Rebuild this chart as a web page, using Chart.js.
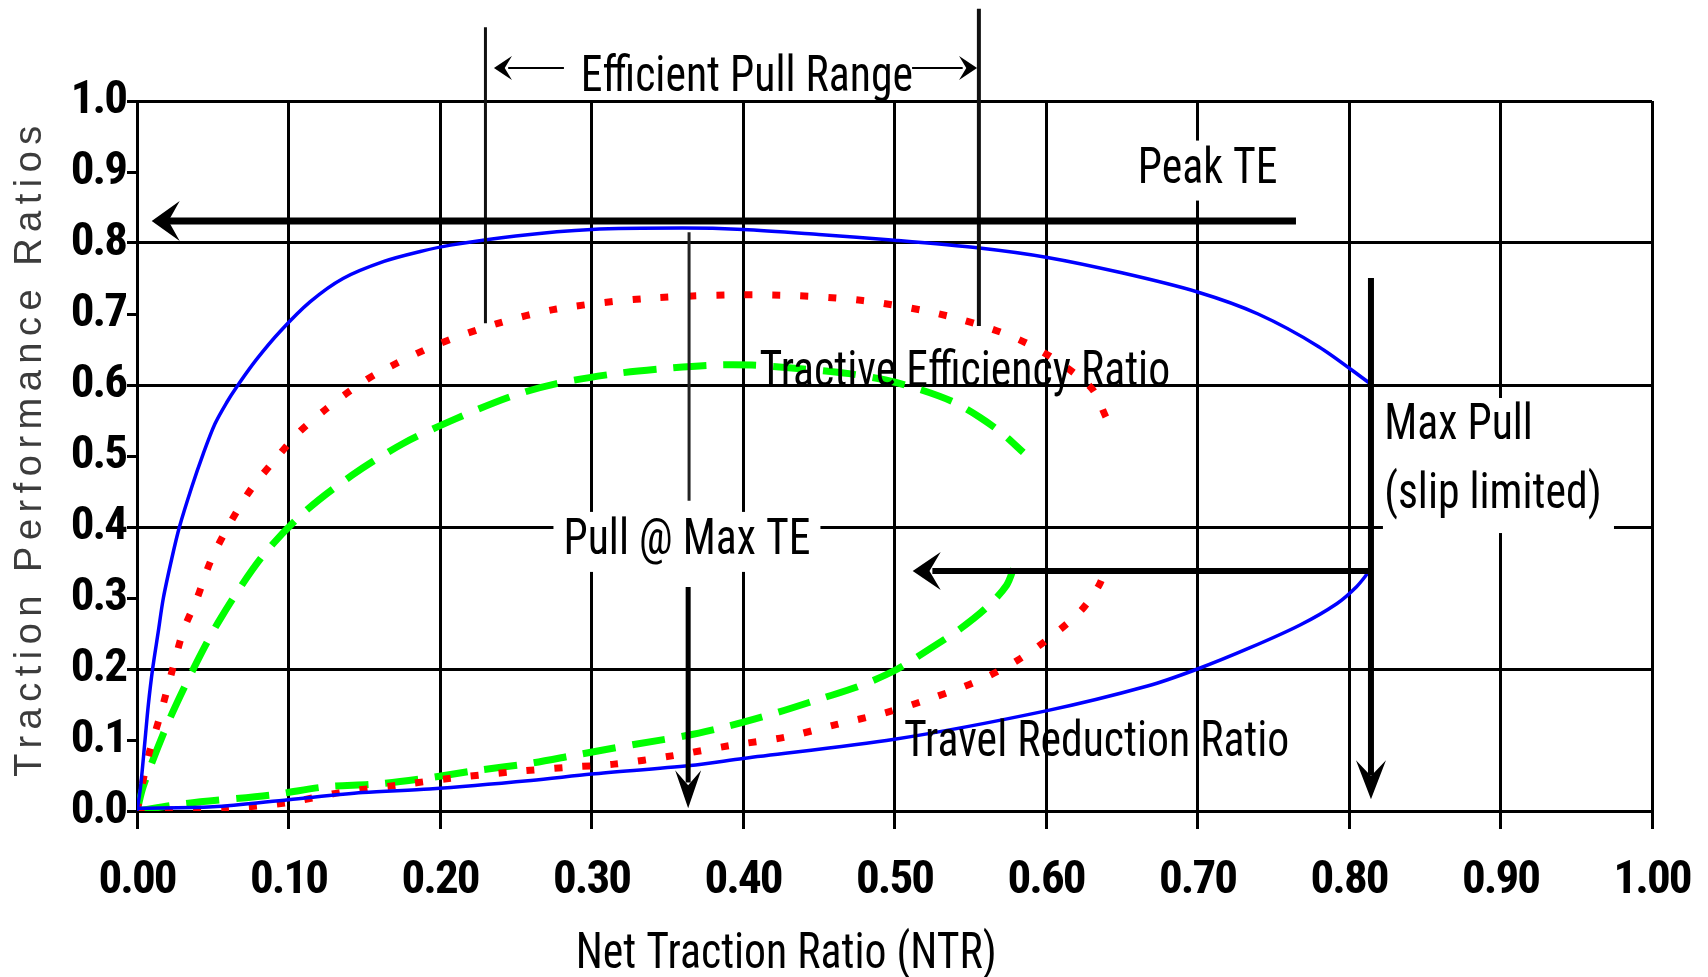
<!DOCTYPE html>
<html>
<head>
<meta charset="utf-8">
<script src="https://cdn.jsdelivr.net/npm/chart.js@4.4.1/dist/chart.umd.min.js"></script>
<style>
  html, body { margin: 0; padding: 0; background: #fff; }
  #wrap { width: 1708px; height: 977px; }
</style>
</head>
<body>
<div id="wrap"><canvas id="tractionChart" width="1708" height="977"></canvas></div>
<script>
// --- data ---
const xTickLabels = ['0.00', '0.10', '0.20', '0.30', '0.40', '0.50', '0.60', '0.70', '0.80', '0.90', '1.00'];
const yTickLabels = ['0.0', '0.1', '0.2', '0.3', '0.4', '0.5', '0.6', '0.7', '0.8', '0.9', '1.0'];

// tractive efficiency (upper curves)
const blueTeNtr = [0, 0.0024, 0.0053, 0.0075, 0.0103, 0.014, 0.0174, 0.023, 0.028, 0.0361, 0.0437, 0.0514, 0.0591, 0.066, 0.0789, 0.0943, 0.1142, 0.136, 0.163, 0.187, 0.207, 0.25, 0.30, 0.36, 0.40, 0.45, 0.50, 0.556, 0.60, 0.65, 0.70, 0.74, 0.78, 0.814];
const blueTe    = [0, 0.035, 0.10, 0.15, 0.20, 0.252, 0.30, 0.356, 0.40, 0.456, 0.503, 0.545, 0.575, 0.598, 0.636, 0.675, 0.717, 0.75, 0.774, 0.788, 0.797, 0.81, 0.819, 0.821, 0.819, 0.812, 0.804, 0.793, 0.78, 0.758, 0.731, 0.70, 0.654, 0.602];

const redTeNtr = [0, 0.0075, 0.0152, 0.0229, 0.0306, 0.0394, 0.0488, 0.0613, 0.0755, 0.0908, 0.1072, 0.1247, 0.1422, 0.159, 0.197, 0.237, 0.277, 0.337, 0.412, 0.479, 0.541, 0.589, 0.629, 0.64];
const redTe    = [0, 0.077, 0.134, 0.195, 0.254, 0.298, 0.353, 0.405, 0.454, 0.494, 0.534, 0.566, 0.594, 0.617, 0.656, 0.686, 0.707, 0.722, 0.727, 0.719, 0.694, 0.657, 0.598, 0.553];

const greenTeNtr = [0, 0.0042, 0.0196, 0.0372, 0.0548, 0.0825, 0.11, 0.142, 0.176, 0.211, 0.247, 0.277, 0.316, 0.347, 0.38, 0.406, 0.438, 0.47, 0.494, 0.515, 0.538, 0.556, 0.571, 0.585];
const greenTe    = [0, 0.035, 0.12, 0.20, 0.27, 0.358, 0.42, 0.473, 0.518, 0.553, 0.584, 0.602, 0.616, 0.623, 0.628, 0.628, 0.623, 0.616, 0.607, 0.595, 0.577, 0.555, 0.532, 0.505];

// travel reduction (lower curves)
const blueTrNtr = [0, 0.05, 0.10, 0.149, 0.193, 0.26, 0.30, 0.365, 0.40, 0.50, 0.60, 0.667, 0.70, 0.7347, 0.7677, 0.7919, 0.805, 0.8128];
const blueTr    = [0.004, 0.006, 0.016, 0.026, 0.031, 0.043, 0.052, 0.064, 0.074, 0.101, 0.141, 0.176, 0.20, 0.23, 0.262, 0.292, 0.316, 0.336];

const redTrNtr = [0, 0.06, 0.10, 0.134, 0.171, 0.207, 0.247, 0.287, 0.315, 0.354, 0.391, 0.428, 0.462, 0.495, 0.526, 0.556, 0.581, 0.603, 0.623, 0.635, 0.64];
const redTr    = [0, 0.004, 0.012, 0.026, 0.036, 0.046, 0.055, 0.062, 0.066, 0.078, 0.092, 0.104, 0.122, 0.139, 0.16, 0.184, 0.212, 0.245, 0.282, 0.318, 0.346];

const greenTrNtr = [0, 0.03, 0.09, 0.124, 0.158, 0.19, 0.224, 0.259, 0.29, 0.329, 0.362, 0.391, 0.423, 0.451, 0.477, 0.502, 0.523, 0.543, 0.561, 0.574, 0.579];
const greenTr    = [0, 0.01, 0.023, 0.034, 0.038, 0.046, 0.057, 0.067, 0.079, 0.094, 0.106, 0.12, 0.139, 0.158, 0.176, 0.2, 0.228, 0.256, 0.287, 0.318, 0.344];

const NARROW = '"Roboto Condensed", "DejaVu Sans Condensed", "Liberation Sans", sans-serif';
const TEXT_FONT = '50px ' + NARROW;
const SQUEEZE = 0.875; // the figure's lettering is horizontally squashed

function toPoints(xs, ys) {
    return xs.map((x, i) => ({ x: x, y: ys[i] }));
}

function lineSet(label, xs, ys, color, width, dash) {
    return {
        label: label,
        data: toPoints(xs, ys),
        borderColor: color,
        borderWidth: width,
        borderDash: dash,
        borderCapStyle: 'butt',
        showLine: true,
        pointRadius: 0,
        fill: false,
        tension: 0.3
    };
}

// annotation helpers (positions in data units, converted through the scales)
function drawLine(ctx, x1, y1, x2, y2, w, color) {
    ctx.beginPath();
    ctx.moveTo(x1, y1);
    ctx.lineTo(x2, y2);
    ctx.lineWidth = w;
    ctx.strokeStyle = color || '#000';
    ctx.lineCap = 'butt';
    ctx.stroke();
}

function drawHead(ctx, tx, ty, dx, dy, len, half) {
    const nx = -dy, ny = dx;
    ctx.beginPath();
    ctx.moveTo(tx, ty);
    ctx.lineTo(tx - dx * len + nx * half, ty - dy * len + ny * half);
    ctx.lineTo(tx - dx * len * 0.6, ty - dy * len * 0.6);
    ctx.lineTo(tx - dx * len - nx * half, ty - dy * len - ny * half);
    ctx.closePath();
    ctx.fillStyle = '#000';
    ctx.fill();
}

// squashed text, returns drawn width
function drawText(ctx, text, x, y, align, box) {
    ctx.save();
    ctx.font = TEXT_FONT;
    const w = ctx.measureText(text).width * SQUEEZE;
    const left = align === 'left' ? x : x - w / 2;
    if (box) {
        ctx.fillStyle = '#fff';
        ctx.fillRect(left - 10, y - 30, w + 20, 60);
    }
    ctx.translate(left, y);
    ctx.scale(SQUEEZE, 1);
    ctx.fillStyle = '#000';
    ctx.textAlign = 'left';
    ctx.textBaseline = 'middle';
    ctx.fillText(text, 0, 0);
    ctx.restore();
    return w;
}

const annotationPlugin = {
    id: 'annotations',
    beforeDraw(chart) {
        // tighter letters for the axis tick labels
        chart.ctx.letterSpacing = '-2px';
    },
    afterDraw(chart) {
        const ctx = chart.ctx;
        const sx = chart.scales.x, sy = chart.scales.y;
        const px = v => sx.getPixelForValue(v);
        const py = v => sy.getPixelForValue(v);
        ctx.save();
        ctx.letterSpacing = '0px';

        // axis titles
        ctx.save();
        ctx.translate(31, (chart.chartArea.top + chart.chartArea.bottom) / 2 - 8);
        ctx.rotate(-Math.PI / 2);
        ctx.font = '38px "Liberation Sans", Arial, sans-serif';
        ctx.letterSpacing = '6.5px';
        ctx.fillStyle = '#3c3c3c';
        ctx.textAlign = 'center';
        ctx.textBaseline = 'middle';
        ctx.fillText('Traction Performance Ratios', 0, 0);
        ctx.restore();
        drawText(ctx, 'Net Traction Ratio (NTR)', px(0.4285), 955, 'center');

        // efficient pull range
        drawLine(ctx, px(0.230), py(1.104), px(0.230), py(0.687), 3, '#111');
        drawLine(ctx, px(0.5557), py(1.13), px(0.5557), py(0.683), 4, '#111');
        drawLine(ctx, px(0.2818), py(1.0465), px(0.245), py(1.0465), 2);
        drawHead(ctx, px(0.2356), py(1.0465), -1, 0, 18, 12);
        drawLine(ctx, px(0.5116), py(1.0465), px(0.545), py(1.0465), 2);
        drawHead(ctx, px(0.5545), py(1.0465), 1, 0, 18, 12);

        // peak TE arrow
        drawLine(ctx, px(0.765), py(0.831), px(0.02), py(0.831), 7);
        drawHead(ctx, px(0.0097), py(0.831), -1, 0, 28, 20);

        // pull @ max TE
        drawLine(ctx, px(0.3644), py(0.815), px(0.3644), py(0.437), 3, '#222');
        drawLine(ctx, px(0.3638), py(0.3155), px(0.3638), py(0.04), 5);
        drawHead(ctx, px(0.3638), py(0.004), 0, 1, 38, 13);

        // max pull
        drawLine(ctx, px(0.8145), py(0.7507), px(0.8145), py(0.05), 6);
        drawHead(ctx, px(0.8145), py(0.0164), 0, 1, 39, 15);
        drawLine(ctx, px(0.8145), py(0.338), px(0.525), py(0.338), 6);
        drawHead(ctx, px(0.512), py(0.338), -1, 0, 28, 19);

        // labels with white boxes that break the grid
        drawText(ctx, 'Peak TE', px(0.7067), py(0.902), 'center', true);
        drawText(ctx, 'Pull @ Max TE', px(0.363), py(0.379), 'center', true);
        ctx.fillStyle = '#fff';
        ctx.fillRect(px(0.8224), py(0.5817), px(0.9749) - px(0.8224), py(0.3915) - py(0.5817));
        drawText(ctx, 'Max Pull', px(0.8232), py(0.5414), 'left');
        drawText(ctx, '(slip limited)', px(0.8232), py(0.4448), 'left');

        // plain labels
        drawText(ctx, 'Efficient Pull Range', px(0.4026), py(1.032), 'center');
        drawText(ctx, 'Tractive Efficiency Ratio', px(0.5464), py(0.6166), 'center');
        drawText(ctx, 'Travel Reduction Ratio', px(0.6334), py(0.095), 'center');

        ctx.restore();
    }
};

const ctx = document.getElementById('tractionChart').getContext('2d');
const tractionChart = new Chart(ctx, {
    type: 'scatter',
    data: {
        datasets: [
            lineSet('Tractive Efficiency (blue)', blueTeNtr, blueTe, '#0000ff', 3.5, []),
            lineSet('Travel Reduction (blue)', blueTrNtr, blueTr, '#0000ff', 3.5, []),
            lineSet('Tractive Efficiency (red)', redTeNtr, redTe, '#ff0000', 7, [8, 20]),
            lineSet('Travel Reduction (red)', redTrNtr, redTr, '#ff0000', 7, [8, 20]),
            lineSet('Tractive Efficiency (green)', greenTeNtr, greenTe, '#00ff00', 7, [33, 17]),
            lineSet('Travel Reduction (green)', greenTrNtr, greenTr, '#00ff00', 7, [33, 17])
        ]
    },
    options: {
        responsive: false,
        animation: false,
        devicePixelRatio: 1,
        layout: { padding: { top: 101, right: 56, left: 0, bottom: 0 } },
        plugins: {
            legend: { display: false },
            tooltip: { enabled: false }
        },
        scales: {
            x: {
                type: 'linear',
                min: 0,
                max: 1,
                afterFit: s => { s.height = 166; s.paddingLeft = 0; s.paddingRight = 0; },
                ticks: {
                    stepSize: 0.1,
                    color: '#000',
                    padding: 24,
                    maxRotation: 0,
                    font: { family: NARROW, size: 47, weight: 'bold' },
                    callback: (v, i) => xTickLabels[i]
                },
                grid: { color: '#000', lineWidth: 3, tickLength: 18, tickColor: '#000', tickWidth: 3 },
                border: { color: '#000', width: 3 }
            },
            y: {
                type: 'linear',
                min: 0,
                max: 1,
                afterFit: s => { s.width = 137; s.paddingTop = 0; s.paddingBottom = 0; },
                ticks: {
                    stepSize: 0.1,
                    color: '#000',
                    padding: 1,
                    font: { family: NARROW, size: 47, weight: 'bold' },
                    callback: (v, i) => yTickLabels[i]
                },
                grid: {
                    color: c => (c.index % 2 === 0 ? '#000' : 'rgba(0,0,0,0)'),
                    lineWidth: 3,
                    tickLength: 10,
                    tickColor: '#000',
                    tickWidth: 3
                },
                border: { color: '#000', width: 3 }
            }
        }
    },
    plugins: [annotationPlugin]
});
</script>
</body>
</html>
